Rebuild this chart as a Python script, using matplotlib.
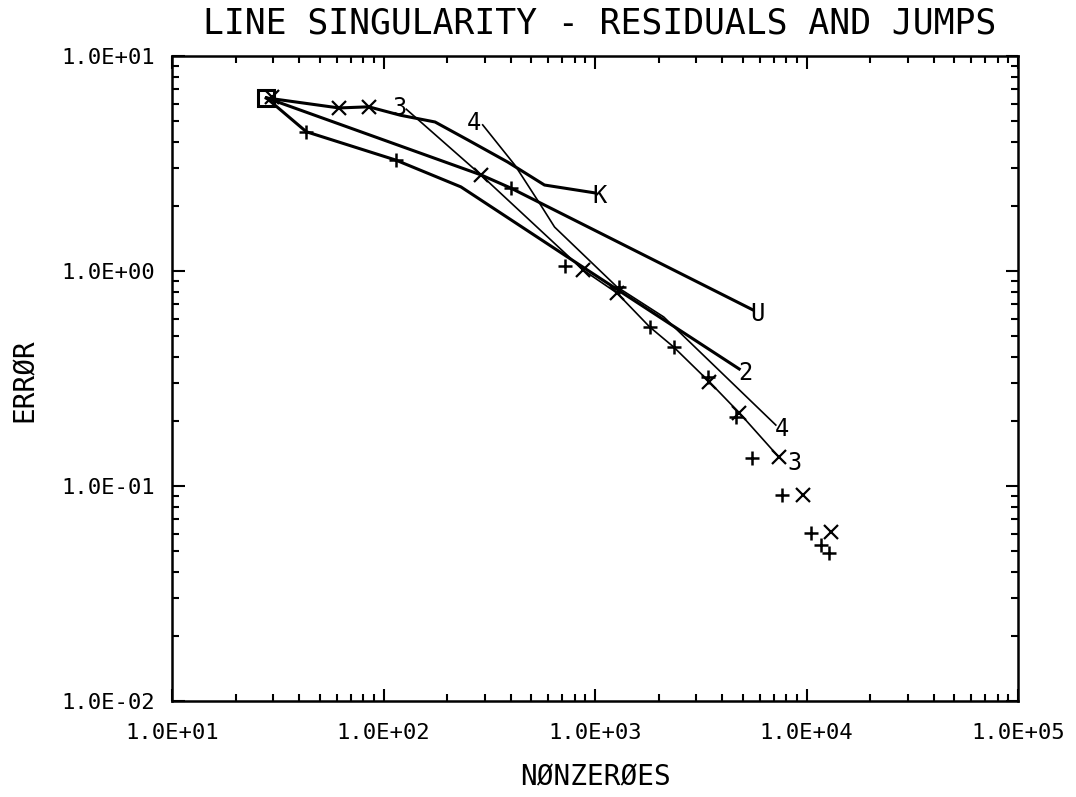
import matplotlib
matplotlib.use("Agg")
import matplotlib.pyplot as plt
from matplotlib.ticker import LogLocator, FuncFormatter

plt.rcParams['font.family'] = ['DejaVu Sans Mono']

# curves (nonzeroes, error)
k_x = [27.9, 61.5, 85, 120, 175, 251, 386, 576, 989]
k_y = [6.38, 5.73, 5.80, 5.3, 4.93, 4.06, 3.21, 2.51, 2.31]

u_x = [27.9, 288, 399, 5570]
u_y = [6.38, 2.80, 2.43, 0.659]

two_x = [27.9, 43.1, 114, 232, 878, 4800]
two_y = [6.38, 4.44, 3.28, 2.46, 1.04, 0.35]

three_x = [128, 288, 878, 1268, 1811, 2350, 3467, 4800, 7400]
three_y = [5.65, 2.80, 1.01, 0.79, 0.549, 0.443, 0.305, 0.219, 0.136]

four_x = [294, 417, 552, 643, 1268, 2110, 7150]
four_y = [4.78, 3.11, 2.03, 1.60, 0.843, 0.611, 0.192]

# point series
plus_x = [43.1, 114, 399, 723, 1290, 1811, 2350, 3400, 4650, 5520, 7640,
          10450, 11750, 12820]
plus_y = [4.44, 3.28, 2.43, 1.06, 0.84, 0.549, 0.443, 0.32, 0.21, 0.135,
          0.0908, 0.0604, 0.0532, 0.0488]

cross_x = [29.5, 61.5, 85, 288, 878, 1268, 3467, 4800, 7400, 9570, 12970]
cross_y = [6.45, 5.73, 5.80, 2.80, 1.01, 0.79, 0.305, 0.219, 0.136, 0.0908,
           0.0611]

start_x = [27.9]
start_y = [6.38]

xticks = [1e1, 1e2, 1e3, 1e4, 1e5]
yticks = [1e-2, 1e-1, 1e0, 1e1]


def main():
    fig = plt.figure(figsize=(10.76, 7.97), dpi=100)
    ax = fig.add_axes([0.16, 0.1205, 0.7862, 0.8093])
    ax.set_xscale('log')
    ax.set_yscale('log')
    ax.set_xlim(1e1, 1e5)
    ax.set_ylim(1e-2, 1e1)

    thick = dict(color='black', lw=2.2, solid_joinstyle='round')
    thin = dict(color='black', lw=1.2)
    ax.plot(k_x, k_y, **thick)
    ax.plot(u_x, u_y, **thick)
    ax.plot(two_x, two_y, **thick)
    ax.plot(three_x, three_y, **thin)
    ax.plot(four_x, four_y, **thin)

    ax.plot(plus_x, plus_y, ls='none', marker='+', ms=10, mew=1.8, color='black')
    ax.plot(cross_x, cross_y, ls='none', marker='x', ms=10, mew=1.6, color='black')
    ax.plot(start_x, start_y, ls='none', marker='s', ms=11, mew=2.2,
            mfc='none', mec='black')

    lab = dict(fontsize=17, color='black', va='center', textcoords='offset points')
    ax.annotate('K', (k_x[-1], k_y[-1]), xytext=(-1, -2), ha='left', **lab)
    ax.annotate('U', (u_x[-1], u_y[-1]), xytext=(-2, -3), ha='left', **lab)
    ax.annotate('2', (two_x[-1], two_y[-1]), xytext=(-1, -3), ha='left', **lab)
    ax.annotate('3', (three_x[-1], three_y[-1]), xytext=(6, -4), ha='left', **lab)
    ax.annotate('4', (four_x[-1], four_y[-1]), xytext=(-1, -3), ha='left', **lab)
    ax.annotate('3', (three_x[0], three_y[0]), xytext=(0, 1), ha='right', **lab)
    ax.annotate('4', (four_x[0], four_y[0]), xytext=(-1, 1), ha='right', **lab)

    ax.xaxis.set_major_locator(LogLocator(base=10, numticks=10))
    ax.yaxis.set_major_locator(LogLocator(base=10, numticks=10))
    ax.xaxis.set_minor_locator(LogLocator(base=10, subs=range(2, 10), numticks=50))
    ax.yaxis.set_minor_locator(LogLocator(base=10, subs=range(2, 10), numticks=50))
    ax.set_xticks(xticks)
    ax.set_yticks(yticks)
    fmt = FuncFormatter(lambda v, p: f"{v:.1E}")
    ax.xaxis.set_major_formatter(fmt)
    ax.yaxis.set_major_formatter(fmt)
    ax.tick_params(which='both', direction='in', top=True, right=True,
                   width=1.5, labelsize=16)
    ax.tick_params(which='major', length=9)
    ax.tick_params(which='minor', length=5)
    ax.tick_params(axis='x', which='major', pad=16)
    ax.tick_params(axis='y', which='major', pad=12)
    for s in ax.spines.values():
        s.set_linewidth(1.8)

    fig.text(600 / 1076, 1 - 23 / 797, "LINE SINGULARITY - RESIDUALS AND JUMPS",
             fontsize=25, ha='center', va='center')
    fig.text(595 / 1076, 1 - 777 / 797, "NØNZERØES", fontsize=20,
             ha='center', va='center')
    fig.text(25 / 1076, 1 - 380 / 797, "ERRØR", fontsize=20, rotation=90,
             ha='center', va='center')

    fig.savefig('out.png', dpi=100)


if __name__ == '__main__':
    main()
